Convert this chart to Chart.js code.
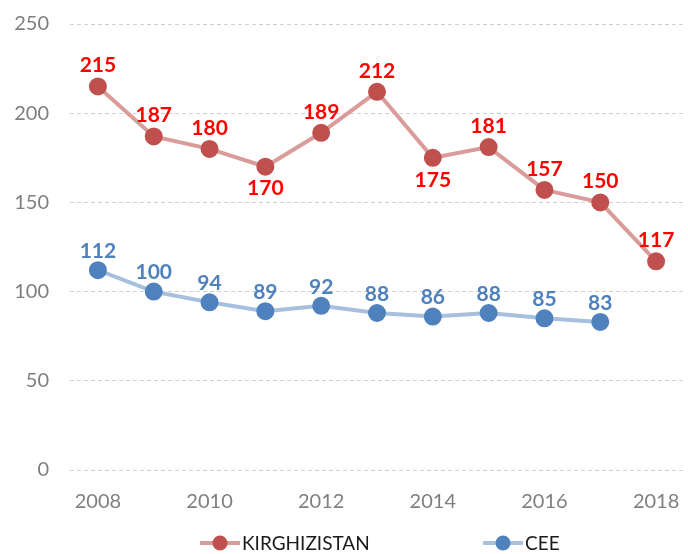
<!DOCTYPE html>
<html>
<head>
<meta charset="utf-8">
<script src="https://cdn.jsdelivr.net/npm/chart.js@4/dist/chart.umd.min.js"></script>
<style>
  html, body { margin: 0; padding: 0; background: #fff; }
  #wrap { width: 688px; height: 554px; }
</style>
</head>
<body>
<div id="wrap"><canvas id="myChart"></canvas></div>
<script>
const years = ['2008', '2009', '2010', '2011', '2012', '2013', '2014', '2015', '2016', '2017', '2018'];
const kirghizistan = [215, 187, 180, 170, 189, 212, 175, 181, 157, 150, 117];
const cee = [112, 100, 94, 89, 92, 88, 86, 88, 85, 83, null];
// labels drawn under the point instead of above
const kgBelow = [3, 6];

const FONT = 'Lato, "Open Sans", sans-serif';

// value labels over the points (no datalabels plugin here)
const valueLabels = {
  id: 'valueLabels',
  afterDatasetsDraw(chart) {
    const c = chart.ctx;
    c.save();
    c.font = 'bold 21px ' + FONT;
    c.textAlign = 'center';
    c.textBaseline = 'middle';
    chart.data.datasets.forEach((ds, i) => {
      const meta = chart.getDatasetMeta(i);
      meta.data.forEach((pt, j) => {
        if (ds.data[j] == null) return;
        let below = i == 0 && kgBelow.includes(j);
        c.fillStyle = ds.labelColor;
        c.fillText(ds.data[j], pt.x, below ? pt.y + 22 : pt.y - ds.labelGap);
      });
    });
    c.restore();
  }
};

// excel style legend: line with marker, then the name
const bottomLegend = {
  id: 'bottomLegend',
  afterDraw(chart) {
    const c = chart.ctx;
    const y = 543;
    const starts = [200, 483];
    c.save();
    c.font = '19px ' + FONT;
    c.textBaseline = 'middle';
    chart.data.datasets.forEach((ds, i) => {
      const x = starts[i];
      c.strokeStyle = ds.borderColor;
      c.lineWidth = 4;
      c.beginPath();
      c.moveTo(x, y);
      c.lineTo(x + 40, y);
      c.stroke();
      c.fillStyle = ds.pointBackgroundColor;
      c.beginPath();
      c.arc(x + 20, y, 7.5, 0, Math.PI * 2);
      c.fill();
      c.fillStyle = '#1a1a1a';
      c.fillText(ds.label, x + 42, y + 1);
    });
    c.restore();
  }
};

const ctx = document.getElementById('myChart');
new Chart(ctx, {
  type: 'line',
  data: {
    labels: years,
    datasets: [{
      label: 'KIRGHIZISTAN',
      data: kirghizistan,
      borderColor: '#DA9C9A',
      borderWidth: 4,
      pointBackgroundColor: '#C0504D',
      pointBorderColor: '#C0504D',
      pointRadius: 7,
      labelColor: '#FF0000',
      labelGap: 21,
      tension: 0
    }, {
      label: 'CEE',
      data: cee,
      borderColor: '#A7C0DE',
      borderWidth: 4,
      pointBackgroundColor: '#4F81BD',
      pointBorderColor: '#4F81BD',
      pointRadius: 7,
      labelColor: '#4F81BD',
      labelGap: 19,
      tension: 0
    }]
  },
  options: {
    responsive: true,
    maintainAspectRatio: false,
    animation: false,
    layout: { autoPadding: false, padding: { top: 24, right: 4, bottom: 34, left: 0 } },
    plugins: {
      legend: { display: false },
      tooltip: { enabled: false }
    },
    scales: {
      x: {
        offset: true,
        grid: { display: false },
        border: { display: false },
        afterFit(scale) {
          scale.height = 50;
          scale.paddingLeft = 0;
          scale.paddingRight = 0;
        },
        ticks: {
          autoSkip: false,
          maxRotation: 0,
          padding: 12,
          color: '#7f7f7f',
          font: { family: FONT, size: 20 },
          callback(val, idx) { return idx % 2 == 0 ? years[idx] : ''; }
        }
      },
      y: {
        min: 0,
        max: 250,
        afterFit(scale) {
          scale.width = 70;
          scale.paddingTop = 0;
          scale.paddingBottom = 0;
        },
        grid: { color: '#d0d0d0', lineWidth: 1, drawTicks: false },
        border: { display: false, dash: [4, 3] },
        ticks: {
          stepSize: 50,
          padding: 21,
          color: '#7f7f7f',
          font: { family: FONT, size: 20 }
        }
      }
    }
  },
  plugins: [valueLabels, bottomLegend]
});
</script>
</body>
</html>
